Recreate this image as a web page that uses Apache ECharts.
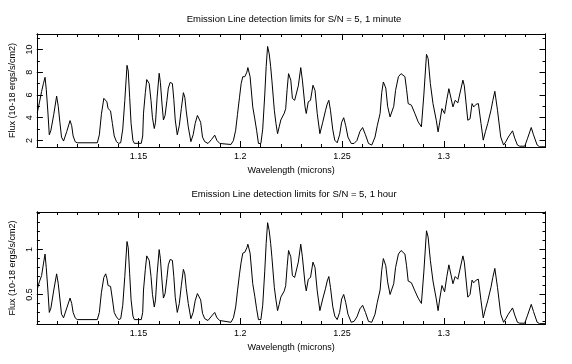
<!DOCTYPE html>
<html><head><meta charset="utf-8">
<script src="https://cdn.jsdelivr.net/npm/echarts@6/dist/echarts.min.js"></script>
<style>html,body{margin:0;padding:0;background:#fff;}#c{width:572px;height:364px;}</style>
</head><body><div id="c"></div>
<script>
const wavelength = [
1.1002,1.1012,1.1023,1.1032,1.1040,1.1046,1.1054,1.1061,1.1069,1.1083,
1.1097,1.1105,1.1113,1.1121,1.1131,1.1147,1.1163,1.1171,1.1178,1.1188,
1.1198,1.1297,1.1307,1.1317,1.1329,1.1338,1.1344,1.1350,1.1362,1.1371,
1.1380,1.1391,1.1402,1.1412,1.1422,1.1432,1.1443,1.1449,1.1456,1.1463,
1.1472,1.1479,1.1513,1.1520,1.1524,1.1533,1.1540,1.1552,1.1561,1.1568,
1.1577,1.1583,1.1591,1.1601,1.1607,1.1615,1.1622,1.1630,1.1639,1.1646,
1.1655,1.1666,1.1673,1.1680,1.1690,1.1700,1.1710,1.1720,1.1727,1.1734,
1.1744,1.1757,1.1768,1.1778,1.1789,1.1798,1.1805,1.1814,1.1825,1.1841,
1.1859,1.1874,1.1885,1.1899,1.1905,1.1954,1.1966,1.1977,1.1986,1.1996,
1.2004,1.2012,1.2022,1.2032,1.2037,1.2048,1.2061,1.2071,1.2080,1.2089,
1.2101,1.2110,1.2120,1.2127,1.2134,1.2142,1.2149,1.2155,1.2167,1.2175,
1.2183,1.2191,1.2199,1.2216,1.2223,1.2230,1.2237,1.2248,1.2256,1.2267,
1.2276,1.2285,1.2297,1.2305,1.2318,1.2324,1.2334,1.2345,1.2357,1.2367,
1.2378,1.2391,1.2405,1.2419,1.2427,1.2435,1.2443,1.2454,1.2464,1.2476,
1.2488,1.2498,1.2508,1.2518,1.2529,1.2545,1.2559,1.2573,1.2588,1.2601,
1.2615,1.2630,1.2646,1.2662,1.2673,1.2687,1.2695,1.2703,1.2715,1.2724,
1.2736,1.2744,1.2754,1.2763,1.2777,1.2790,1.2798,1.2809,1.2817,1.2825,
1.2841,1.2858,1.2874,1.2890,1.2902,1.2915,1.2923,1.2934,1.2947,1.2963,
1.2972,1.2980,1.2991,1.3004,1.3015,1.3025,1.3033,1.3045,1.3056,1.3069,
1.3077,1.3094,1.3101,1.3118,1.3129,1.3139,1.3147,1.3159,1.3170,1.3183,
1.3194,1.3205,1.3216,1.3232,1.3241,1.3251,1.3264,1.3280,1.3294,1.3305,
1.3317,1.3338,1.3349,1.3362,1.3373,1.3398,1.3412,1.3430,1.3441,1.3459,
1.3471,1.3500];
const flux1min = [
4.45,5.3,6.3,7.0,7.55,6.5,4.5,2.5,2.9,4.3,
5.9,5.0,3.6,2.3,1.95,2.8,3.75,3.3,2.4,1.9,
1.8,1.8,2.5,4.3,5.7,5.8,5.4,4.8,4.6,3.5,
2.4,1.9,1.75,1.8,3.0,5.5,8.6,8.1,5.8,3.5,
2.0,1.75,1.75,2.4,4.4,6.2,7.35,7.0,5.5,4.0,
3.05,3.6,5.8,7.9,7.1,5.2,3.8,4.2,5.5,6.6,
7.1,7.0,5.6,3.8,2.5,3.3,4.8,6.2,5.8,4.6,
3.2,1.9,2.5,3.5,4.2,4.2,3.6,2.3,1.9,1.74,
2.1,2.47,2.0,1.74,1.65,1.65,2.0,2.9,4.3,5.8,
7.0,7.6,7.6,8.0,8.4,7.6,4.95,3.9,2.9,1.74,
1.74,3.0,6.0,8.5,10.26,9.6,8.5,7.3,4.66,3.5,
2.6,3.2,3.8,4.4,4.8,6.5,7.87,7.3,5.7,5.53,
5.4,6.8,8.4,7.3,4.95,4.37,5.4,5.53,6.85,6.4,
4.37,2.6,3.6,4.66,5.2,5.53,4.66,3.0,2.03,1.8,
2.5,3.6,4.0,3.3,2.3,1.74,1.74,2.0,2.8,3.14,
2.5,1.74,1.6,2.3,3.3,4.37,6.2,7.14,6.6,5.0,
4.07,3.93,5.0,6.4,7.6,7.87,7.8,7.6,6.5,5.24,
5.1,4.37,3.64,3.2,6.0,9.56,9.2,7.0,5.24,3.78,
2.76,3.6,4.8,4.37,5.6,6.55,6.5,4.95,5.53,5.3,
5.4,7.3,6.8,3.78,3.9,5.24,4.95,5.18,5.24,3.49,
2.03,2.8,3.49,4.66,5.5,6.32,4.66,2.3,1.6,1.9,
2.3,2.85,2.2,1.6,1.5,1.5,2.2,3.14,2.5,1.6,
1.45,1.45];
const flux1hour = [
0.56,0.64,0.71,0.84,0.95,0.80,0.55,0.30,0.35,0.55,
0.73,0.62,0.45,0.28,0.24,0.35,0.46,0.40,0.30,0.24,
0.22,0.22,0.30,0.52,0.69,0.73,0.68,0.60,0.59,0.45,
0.30,0.25,0.22,0.23,0.38,0.70,1.09,1.02,0.73,0.44,
0.26,0.22,0.22,0.30,0.55,0.78,0.93,0.88,0.70,0.50,
0.36,0.44,0.73,1.0,0.90,0.65,0.46,0.51,0.68,0.83,
0.89,0.88,0.70,0.47,0.30,0.40,0.60,0.78,0.73,0.57,
0.40,0.23,0.30,0.43,0.51,0.51,0.44,0.29,0.23,0.21,
0.26,0.30,0.24,0.21,0.19,0.19,0.24,0.36,0.54,0.73,
0.86,0.96,0.97,1.02,1.06,0.96,0.62,0.48,0.34,0.22,
0.22,0.38,0.76,1.07,1.30,1.21,1.07,0.92,0.58,0.44,
0.32,0.39,0.47,0.54,0.60,0.81,0.99,0.92,0.71,0.69,
0.68,0.86,1.06,0.92,0.62,0.54,0.67,0.69,0.86,0.80,
0.54,0.32,0.45,0.57,0.65,0.70,0.58,0.37,0.26,0.22,
0.30,0.45,0.50,0.41,0.28,0.19,0.20,0.25,0.34,0.38,
0.30,0.20,0.19,0.28,0.41,0.55,0.77,0.90,0.82,0.64,
0.50,0.48,0.62,0.80,0.95,0.99,0.98,0.95,0.82,0.65,
0.63,0.54,0.46,0.40,0.75,1.21,1.14,0.88,0.65,0.45,
0.32,0.45,0.60,0.53,0.70,0.83,0.82,0.62,0.70,0.67,
0.68,0.93,0.86,0.47,0.50,0.66,0.63,0.66,0.67,0.43,
0.24,0.34,0.43,0.58,0.69,0.79,0.58,0.28,0.19,0.23,
0.28,0.35,0.27,0.19,0.18,0.18,0.27,0.39,0.31,0.19,
0.175,0.175];
const xTickLabels = [1.15, 1.2, 1.25, 1.3];
const yTicks1min = [2, 4, 6, 8, 10];
const yMinor1min = [2, 3, 4, 5, 6, 7, 8, 9, 10, 11];
const yTicks1hour = [0.5, 1];
const yMinor1hour = [0.2, 0.3, 0.4, 0.5, 0.6, 0.7, 0.8, 0.9, 1.0, 1.1, 1.2, 1.3, 1.4];
const titles = ['Emission Line detection limits for S/N = 5, 1 minute',
                'Emission Line detection limits for S/N = 5, 1 hour'];
const xName = 'Wavelength (microns)';
const yName = 'Flux (10-18 ergs/s/cm2)';

const FONT = 'Liberation Sans';
const black = '#000';
const chart = echarts.init(document.getElementById('c'), null, {renderer: 'canvas'});

const panels = [
  {top: 34, height: 113, ymin: 1.43, ymax: 11.35, majors: yTicks1min, minors: yMinor1min, data: flux1min, titleTop: 9},
  {top: 212, height: 112, ymin: 0.171, ymax: 1.419, majors: yTicks1hour, minors: yMinor1hour, data: flux1hour, titleTop: 184}
];

const grid = [], xAxis = [], yAxis = [], series = [], title = [];
panels.forEach((p, gi) => {
  grid.push({left: 32.5, width: 513, top: p.top, height: p.height, containLabel: false});
  title.push({text: titles[gi], left: 289, top: p.titleTop, textAlign: 'center',
    textStyle: {fontFamily: FONT, fontSize: 9.5, fontWeight: 'normal', color: black}});
  const xBase = {type: 'value', gridIndex: gi, min: 1.1, max: 1.35, interval: 0.05,
    axisLine: {show: true, lineStyle: {color: black, width: 1}},
    axisTick: {show: true, inside: true, length: 6, lineStyle: {color: black}},
    minorTick: {show: true, splitNumber: 5, length: 3, lineStyle: {color: black}},
    splitLine: {show: false}, minorSplitLine: {show: false}};
  xAxis.push(Object.assign({}, xBase, {position: 'bottom',
    name: xName, nameLocation: 'middle', nameGap: 19,
    nameTextStyle: {fontFamily: FONT, fontSize: 9, color: black},
    axisLabel: {show: true, customValues: xTickLabels, margin: 5, fontFamily: FONT, fontSize: 9, color: black}}));
  xAxis.push(Object.assign({}, xBase, {position: 'top', axisLabel: {show: false}}));
  const ax = (pos, isMajor) => ({type: 'value', gridIndex: gi, position: pos, min: p.ymin, max: p.ymax,
    axisLine: {show: true, lineStyle: {color: black, width: 1}},
    axisTick: {show: true, inside: true, length: isMajor ? 6 : 3, customValues: isMajor ? p.majors : p.minors, lineStyle: {color: black}},
    splitLine: {show: false}, minorTick: {show: false}});
  const yl = ax('left', true);
  yl.axisLabel = {show: true, customValues: p.majors, rotate: 90, margin: 3, fontFamily: FONT, fontSize: 9, color: black};
  yl.name = yName; yl.nameLocation = 'middle'; yl.nameGap = 8; yl.nameRotate = 90;
  yl.nameTextStyle = {fontFamily: FONT, fontSize: 9, color: black};
  yAxis.push(yl);
  const y2 = ax('left', false); y2.axisLabel = {show: false}; yAxis.push(y2);
  const y3 = ax('right', true); y3.axisLabel = {show: false}; yAxis.push(y3);
  const y4 = ax('right', false); y4.axisLabel = {show: false}; yAxis.push(y4);
  series.push({type: 'line', xAxisIndex: gi * 2, yAxisIndex: gi * 4,
    data: wavelength.map((w, i) => [w, p.data[i]]),
    showSymbol: false, symbol: 'none', smooth: false,
    lineStyle: {color: black, width: 1}, silent: true});
});

chart.setOption({animation: false, backgroundColor: '#fff', title, grid, xAxis, yAxis, series});
</script>
</body></html>
